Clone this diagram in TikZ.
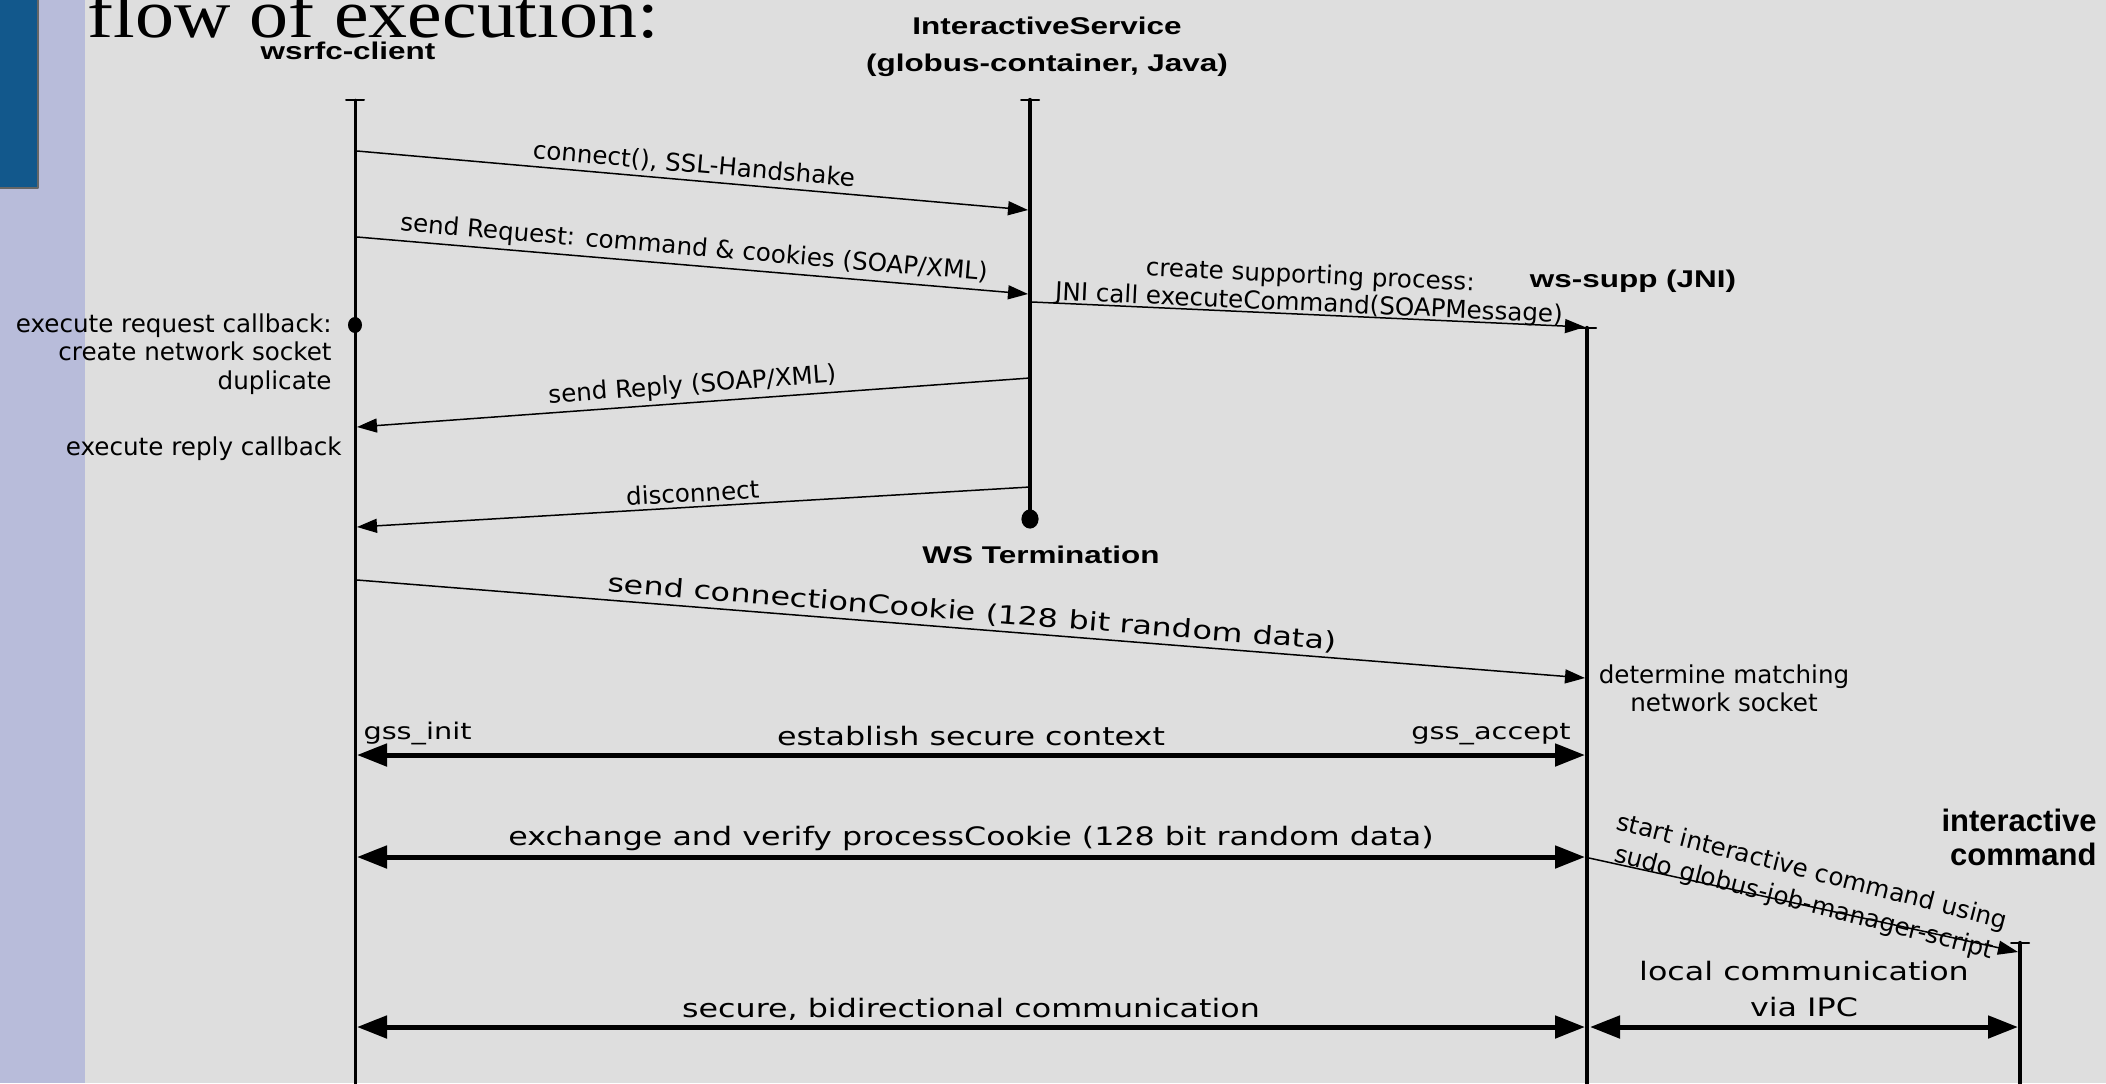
\documentclass[tikz,border=0pt]{standalone}
\usepackage{fontspec}
\setmainfont{DejaVu Sans}
\newfontfamily\widefont[FakeStretch=1.25]{DejaVu Sans}
\newfontfamily\headfont[FakeStretch=1.3]{Liberation Sans}
\newfontfamily\cmdfont{Liberation Sans}
\newfontfamily\titlefont[FakeStretch=1.13]{Liberation Serif}
\usetikzlibrary{arrows.meta}
\definecolor{slidebg}{RGB}{222,222,222}
\definecolor{slidestrip}{RGB}{184,188,218}
\definecolor{slideblue}{RGB}{18,88,140}

\tikzset{
  clientline/.style={line width=1.5pt},
  lifeline/.style={line width=2.2pt},
  msg/.style={line width=0.75pt},
  duplex/.style={{Triangle[length=15pt,width=11pt]}-{Triangle[length=15pt,width=11pt]}, line width=2.5pt},
  msglabel/.style={font=\fontsize{12.3}{14.25}\selectfont, inner sep=2pt},
  twolabel/.style={font=\fontsize{12.3}{14}\selectfont, inner sep=0pt, anchor=south, sloped, align=center},
  biglabel/.style={font=\widefont\fontsize{12.7}{18}\selectfont, inner sep=2pt},
  headlabel/.style={font=\headfont\bfseries\fontsize{12.1}{18.5}\selectfont, inner sep=0pt},
}

\begin{document}
\begin{tikzpicture}[line cap=round,line join=round,>={Triangle[length=10pt,width=7pt]},x=0.5pt,y=-0.5pt]
\useasboundingbox (0,0) rectangle (2106,1083);
\clip (0,0) rectangle (2106,1083);
\fill[slidebg] (0,0) rectangle (2106,1083);
\fill[slidestrip] (0,0) rectangle (85,1083);
\draw[fill=slideblue, draw=black!60, line width=0.6pt] (-4,-4) rectangle (38,188);

\node[anchor=base west, inner sep=0pt, font=\titlefont\fontsize{34.5}{40}\selectfont] (title) at (87,37) {flow of execution:};

% lifelines
\coordinate (cl-top) at (355,100);
\coordinate (cl-end) at (355,1090);
\coordinate (is-top) at (1030,100);
\coordinate (is-end) at (1030,519);
\coordinate (ws-top) at (1587,328);
\coordinate (ws-end) at (1587,1090);
\coordinate (ic-top) at (2020,943);
\coordinate (ic-end) at (2020,1090);

\draw [clientline] (cl-top) -- (cl-end);
\draw [lifeline] (is-top) -- (is-end);
\draw [lifeline] (ws-top) -- (ws-end);
\draw [lifeline] (ic-top) -- (ic-end);
\draw [line width=1pt] ([xshift=-4.5pt]cl-top) -- ([xshift=4.5pt]cl-top);
\draw [line width=1pt] ([xshift=-4.5pt]is-top) -- ([xshift=4.5pt]is-top);
\draw [line width=1pt] ([xshift=-4.5pt]ws-top) -- ([xshift=4.5pt]ws-top);
\draw [line width=1pt] ([xshift=-4.5pt]ic-top) -- ([xshift=4.5pt]ic-top);

\coordinate (cl-cb) at (355,325);
\fill (cl-cb) ellipse (3.5pt and 4pt);
\fill (is-end) ellipse (4.3pt and 4.8pt);

\node[headlabel, anchor=base] (client) at (348,59) {wsrfc-client};
\node[headlabel, anchor=north, align=center] (service) at (1047,17) {InteractiveService\\(globus-container, Java)};
\node[headlabel, anchor=base] (wssupp) at (1633,287) {ws-supp (JNI)};
\node[headlabel, anchor=base] (wsterm) at (1041,563) {WS Termination};
\node[anchor=north east, align=right, inner sep=0pt, font=\cmdfont\bfseries\fontsize{15.5}{17}\selectfont] (icmd) at (2097,809) {interactive\\command};

\node[msglabel, inner sep=0pt, anchor=north east, align=right] (reqcb) at (332,313) {execute request callback:\\create network socket\\duplicate};
\node[msglabel, inner sep=0pt, anchor=base east] (replycb) at (342,455) {execute reply callback};
\node[msglabel, inner sep=0pt, anchor=north, align=center] (match) at (1724,664) {determine matching\\network socket};

% messages
\coordinate (cl-m1) at (357,151);
\coordinate (is-m1) at (1028,210);
\coordinate (cl-m2) at (357,237);
\coordinate (is-m2) at (1028,294);
\coordinate (is-m3) at (1032,302);
\coordinate (ws-m3) at (1585,327);
\coordinate (is-m4) at (1030,378);
\coordinate (cl-m4) at (357,427);
\coordinate (is-m5) at (1030,487);
\coordinate (cl-m5) at (357,527);
\coordinate (cl-m6) at (357,580);
\coordinate (ws-m6) at (1585,678);
\coordinate (ws-m7) at (1589,858);
\coordinate (ic-m7) at (2018,952);

\draw [msg,->] (cl-m1) -- node[msglabel, above, sloped] {connect(), SSL-Handshake} (is-m1);
\draw [msg,->] (cl-m2) -- node[msglabel, above, sloped] {send Request: command \& cookies (SOAP/XML)} (is-m2);
\draw [msg,->] (is-m3) -- node[twolabel, yshift=-1.3pt] {create supporting process:\\JNI call executeCommand(SOAPMessage)} (ws-m3);
\draw [msg,<-] (cl-m4) -- node[msglabel, above, sloped] {send Reply (SOAP/XML)} (is-m4);
\draw [msg,<-] (cl-m5) -- node[msglabel, above, sloped] {disconnect} (is-m5);
\draw [msg,->] (cl-m6) -- node[biglabel, above, sloped] {send connectionCookie (128 bit random data)} (ws-m6);
\draw [msg,->] (ws-m7) -- node[twolabel, font=\fontsize{12.3}{16}\selectfont, rotate=-2, yshift=-5.6pt] {start interactive command using\\sudo globus-job-manager-script} (ic-m7);

% secure channel
\coordinate (cl-d1) at (357,755);
\coordinate (ws-d1) at (1585,755);
\coordinate (cl-d2) at (357,857);
\coordinate (ws-d2) at (1585,857);
\coordinate (cl-d3) at (357,1027);
\coordinate (ws-d3) at (1585,1027);
\coordinate (ws-d4) at (1590,1027);
\coordinate (ic-d4) at (2018,1027);

\draw [duplex] (cl-d1) -- node[biglabel, above, yshift=1.5pt] {establish secure context}
  node[pos=0, biglabel, font=\widefont\fontsize{11.5}{14}\selectfont, above right, yshift=2pt] {gss\_init}
  node[pos=1, biglabel, font=\widefont\fontsize{11.5}{14}\selectfont, above left, xshift=-4pt, yshift=2pt] {gss\_accept} (ws-d1);
\draw [duplex] (cl-d2) -- node[biglabel, above] {exchange and verify processCookie (128 bit random data)} (ws-d2);
\draw [duplex] (cl-d3) -- node[biglabel, above] {secure, bidirectional communication} (ws-d3);
\draw [duplex] (ws-d4) -- node[biglabel, above, align=center, yshift=2pt] {local communication\\via IPC} (ic-d4);
\end{tikzpicture}
\end{document}
